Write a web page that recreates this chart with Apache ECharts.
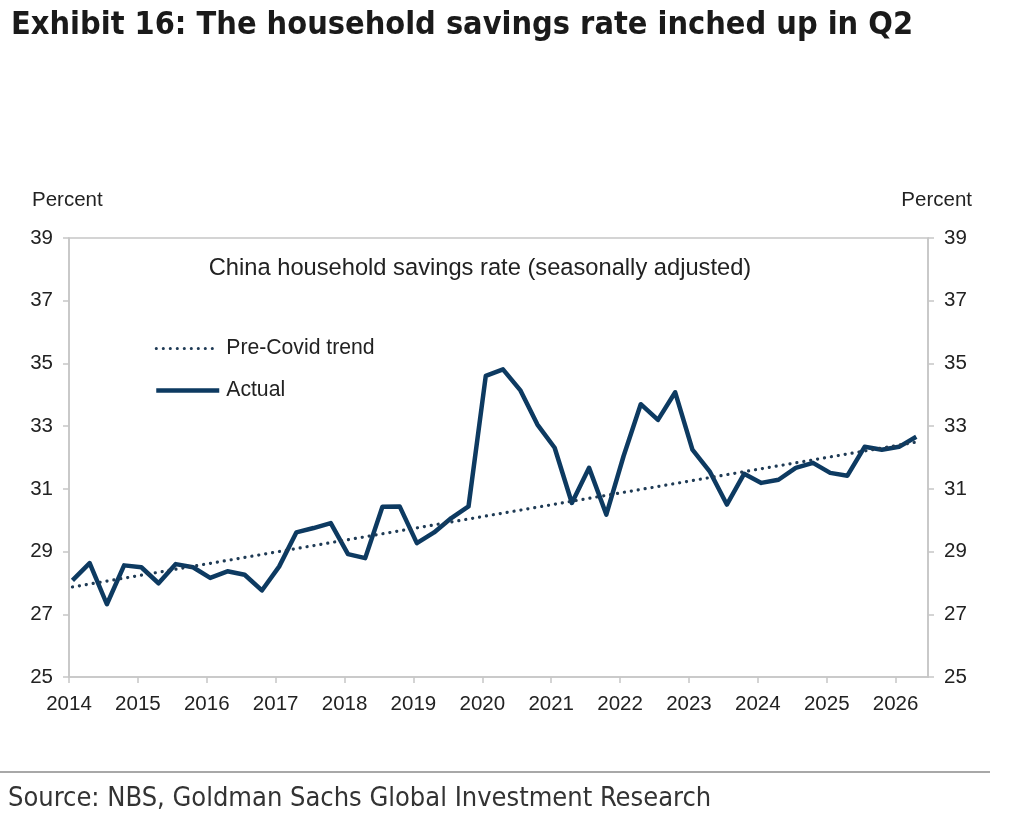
<!DOCTYPE html>
<html>
<head>
<meta charset="utf-8">
<script src="https://cdn.jsdelivr.net/npm/echarts@6/dist/echarts.min.js"></script>
<style>
html,body{margin:0;padding:0;background:#fff;}
#chart{width:1024px;height:840px;}
</style>
</head>
<body>
<div id="chart"></div>
<script>
// ---- data ----
const quarters = [
  '2014Q1','2014Q2','2014Q3','2014Q4','2015Q1','2015Q2','2015Q3','2015Q4',
  '2016Q1','2016Q2','2016Q3','2016Q4','2017Q1','2017Q2','2017Q3','2017Q4',
  '2018Q1','2018Q2','2018Q3','2018Q4','2019Q1','2019Q2','2019Q3','2019Q4',
  '2020Q1','2020Q2','2020Q3','2020Q4','2021Q1','2021Q2','2021Q3','2021Q4',
  '2022Q1','2022Q2','2022Q3','2022Q4','2023Q1','2023Q2','2023Q3','2023Q4',
  '2024Q1','2024Q2','2024Q3','2024Q4','2025Q1','2025Q2','2025Q3','2025Q4',
  '2026Q1','2026Q2'
];
const actual = [
  28.08, 28.63, 27.32, 28.56, 28.50, 27.99, 28.60, 28.50,
  28.16, 28.37, 28.26, 27.76, 28.52, 29.61, 29.75, 29.91,
  28.92, 28.79, 30.43, 30.44, 29.27, 29.61, 30.07, 30.44,
  34.60, 34.81, 34.15, 33.05, 32.31, 30.55, 31.67, 30.18,
  32.04, 33.70, 33.20, 34.08, 32.25, 31.56, 30.50, 31.48,
  31.19, 31.29, 31.67, 31.83, 31.51, 31.42, 32.34, 32.25,
  32.34, 32.66
];
// Pre-Covid trend: straight line, values at first and last quarter
const trendQuarters = ['2014Q1', '2026Q2'];
const trendValues = [27.87, 32.49];
const yTicks = [25, 27, 29, 31, 33, 35, 37, 39];
const xYears = [2014, 2015, 2016, 2017, 2018, 2019, 2020, 2021, 2022, 2023, 2024, 2025, 2026];

const titleText = 'Exhibit 16: The household savings rate inched up in Q2';
const chartSubtitle = 'China household savings rate (seasonally adjusted)';
const sourceText = 'Source: NBS, Goldman Sachs Global Investment Research';

// quarter label -> position on a year axis (points plotted slightly after quarter start)
function qx(q) {
  const y = parseInt(q.slice(0, 4), 10);
  const n = parseInt(q.slice(5), 10);
  return y + (n - 1) / 4 + 0.05;
}

const actualData = quarters.map((q, i) => [qx(q), actual[i]]);
const trendData = trendQuarters.map((q, i) => [qx(q), trendValues[i]]);

const NAVY = '#0d3a61';
const DOT = '#1f3b55';
const AXIS = '#c6c6c6';
const TXT = '#222';
const FONT = "'Liberation Sans', Arial, sans-serif";
const NARROW = "'Liberation Sans Narrow', 'DejaVu Sans Condensed', 'Liberation Sans', sans-serif";
const DOTS = [0.1, 6.9];

const chart = echarts.init(document.getElementById('chart'), null, {renderer: 'canvas'});

const yAxisCommon = {
  type: 'value',
  min: yTicks[0],
  max: yTicks[yTicks.length - 1],
  interval: 2,
  axisLine: {show: true, lineStyle: {color: AXIS, width: 1.5}},
  axisTick: {show: true, length: 6, lineStyle: {color: AXIS, width: 1.5}},
  splitLine: {show: false},
  axisLabel: {color: TXT, fontSize: 20.5, fontFamily: FONT, margin: 16}
};

chart.setOption({
  backgroundColor: '#fff',
  animation: false,
  title: {
    text: titleText,
    left: 6,
    top: 5,
    textStyle: {fontFamily: NARROW, fontWeight: 'bold', fontSize: 32.2, color: '#1a1a1a'}
  },
  grid: {
    left: 69, right: 96, top: 238, bottom: 163,
    show: true, borderColor: AXIS, borderWidth: 1.5, backgroundColor: 'transparent'
  },
  legend: {
    orient: 'vertical',
    left: 149,
    top: 333,
    itemWidth: 63,
    itemHeight: 14,
    itemGap: 21,
    itemStyle: {opacity: 0},
    data: [
      {name: 'Pre-Covid trend', lineStyle: {color: DOT, width: 3, type: DOTS, cap: 'round'}},
      {name: 'Actual', lineStyle: {color: NAVY, width: 4.5}}
    ],
    textStyle: {fontSize: 21.2, fontFamily: FONT, color: TXT, padding: [0, 0, 0, 2]}
  },
  xAxis: {
    type: 'value',
    min: xYears[0],
    max: 2026.47,
    interval: 1,
    axisLine: {show: true, lineStyle: {color: AXIS, width: 1.5}},
    axisTick: {show: true, length: 6, lineStyle: {color: AXIS, width: 1.5}},
    splitLine: {show: false},
    axisLabel: {
      color: TXT, fontSize: 20.5, fontFamily: FONT, margin: 17,
      showMaxLabel: false,
      formatter: v => (Math.abs(v - Math.round(v)) < 1e-6 && xYears.indexOf(Math.round(v)) >= 0) ? String(Math.round(v)) : ''
    }
  },
  yAxis: [
    Object.assign({}, yAxisCommon, {position: 'left'}),
    Object.assign({}, yAxisCommon, {position: 'right'})
  ],
  series: [
    {
      name: 'Pre-Covid trend',
      type: 'line',
      data: trendData,
      symbol: 'none',
      lineStyle: {color: DOT, width: 3.2, type: DOTS, cap: 'round'},
      itemStyle: {color: DOT},
      z: 3
    },
    {
      name: 'Actual',
      type: 'line',
      data: actualData,
      symbol: 'none',
      lineStyle: {color: NAVY, width: 4.5, join: 'round'},
      itemStyle: {color: NAVY},
      z: 2
    }
  ],
  graphic: [
    {type: 'text', left: 32, top: 190, style: {text: 'Percent', font: "20.5px " + FONT, fill: TXT}},
    {type: 'text', right: 52, top: 190, style: {text: 'Percent', font: "20.5px " + FONT, fill: TXT}},
    {type: 'text', x: 480, y: 268, style: {text: chartSubtitle, font: "23.7px " + FONT, fill: TXT, align: 'center', verticalAlign: 'middle'}},
    {type: 'line', shape: {x1: 0, y1: 772, x2: 990, y2: 772}, style: {stroke: '#a8a8a8', lineWidth: 2}},
    {type: 'text', left: 8, top: 785, style: {text: sourceText, font: "27px " + NARROW, fill: '#333'}}
  ]
});
</script>
</body>
</html>
